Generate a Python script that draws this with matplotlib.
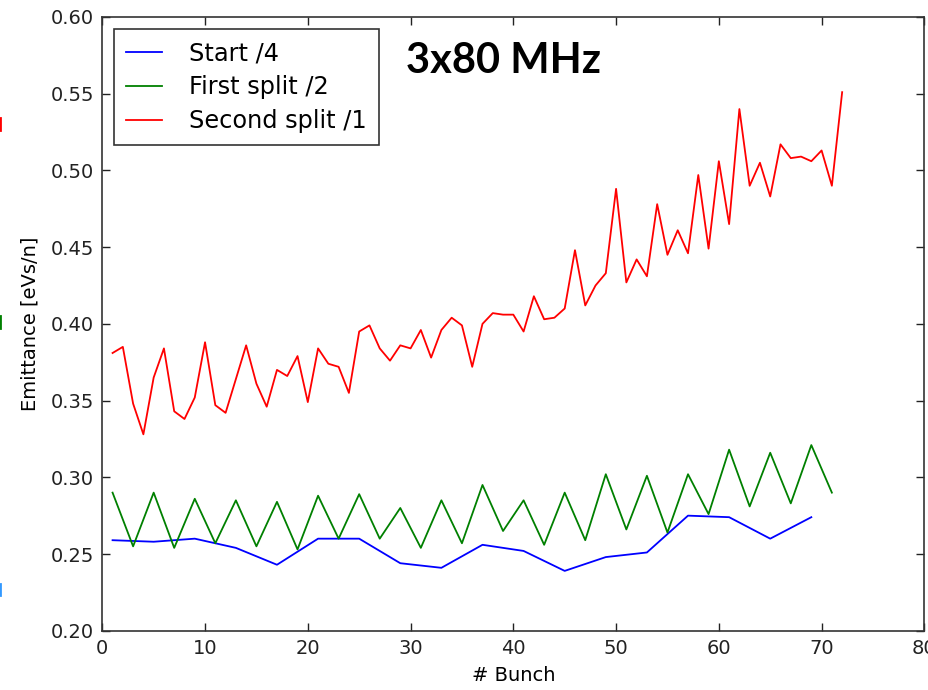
import numpy as np
import matplotlib
matplotlib.use('Agg')
import matplotlib.pyplot as plt
from matplotlib.lines import Line2D

# bunch numbers for each splitting stage
bunch_start = np.arange(1, 70, 4)
bunch_first = np.arange(1, 72, 2)
bunch_second = np.arange(1, 73)

# emittance values [eVs/n]
start_emit = [0.259, 0.258, 0.260, 0.254, 0.243, 0.260, 0.260, 0.244, 0.241,
              0.256, 0.252, 0.239, 0.248, 0.251, 0.275, 0.274, 0.260, 0.274]

first_emit = [0.290, 0.255, 0.290, 0.254, 0.286, 0.257, 0.285, 0.255, 0.284,
              0.253, 0.288, 0.260, 0.289, 0.260, 0.280, 0.254, 0.285, 0.257,
              0.295, 0.265, 0.285, 0.256, 0.290, 0.259, 0.302, 0.266, 0.301,
              0.264, 0.302, 0.276, 0.318, 0.281, 0.316, 0.283, 0.321, 0.290]

second_emit = [0.381, 0.385, 0.348, 0.328, 0.365, 0.384, 0.343, 0.338, 0.352,
               0.388, 0.347, 0.342, 0.364, 0.386, 0.361, 0.346, 0.370, 0.366,
               0.379, 0.349, 0.384, 0.374, 0.372, 0.355, 0.395, 0.399, 0.384,
               0.376, 0.386, 0.384, 0.396, 0.378, 0.396, 0.404, 0.399, 0.372,
               0.400, 0.407, 0.406, 0.406, 0.395, 0.418, 0.403, 0.404, 0.410,
               0.448, 0.412, 0.425, 0.433, 0.488, 0.427, 0.442, 0.431, 0.478,
               0.445, 0.461, 0.446, 0.497, 0.449, 0.506, 0.465, 0.540, 0.490,
               0.505, 0.483, 0.517, 0.508, 0.509, 0.506, 0.513, 0.490, 0.551]

labels = ['Start /4', 'First split /2', 'Second split /1']

fig = plt.figure(figsize=(9.29, 6.9), dpi=100)
ax = fig.add_axes([0.1101, 0.0859, 0.8849, 0.8895])

ax.plot(bunch_start, start_emit, color='b', lw=1.3, label=labels[0])
ax.plot(bunch_first, first_emit, color='g', lw=1.3, label=labels[1])
ax.plot(bunch_second, second_emit, color='r', lw=1.3, label=labels[2])

ax.set_xlim(0, 80)
ax.set_ylim(0.20, 0.60)
ax.set_yticks(np.arange(0.20, 0.601, 0.05))
ax.yaxis.set_major_formatter(matplotlib.ticker.FormatStrFormatter('%.2f'))
ax.tick_params(direction='in', top=True, right=True, length=6, width=1,
               labelsize=14, pad=6, colors='#222222')
for sp in ax.spines.values():
    sp.set_color('#333333')
    sp.set_linewidth(1.2)

ax.set_xlabel('# Bunch', fontsize=14, labelpad=6)
ax.set_ylabel('Emittance [eVs/n]', fontsize=14, labelpad=8)

leg = ax.legend(loc='upper left', fontsize=17.3, frameon=True, fancybox=False,
                handlelength=1.5, handletextpad=1.1, labelspacing=0.42,
                borderpad=0.5, borderaxespad=0.5)
leg.get_frame().set_edgecolor('black')
leg.get_frame().set_linewidth(1.2)

# annotation in the original slide
ax.text(0.370, 0.929, '3x80 MHz', transform=ax.transAxes, fontsize=30,
        fontweight='bold', family='Lato', va='center', ha='left')

# small coloured cut-off marks at the left edge of the slide
fig.add_artist(Line2D([0.0005, 0.0005], [1 - 130 / 690, 1 - 118 / 690], color='r', lw=2))
fig.add_artist(Line2D([0.0005, 0.0005], [1 - 328 / 690, 1 - 316 / 690], color='g', lw=2))
fig.add_artist(Line2D([0.0005, 0.0005], [1 - 595 / 690, 1 - 584 / 690], color='#3399ff', lw=2))

fig.savefig('out.png', dpi=100)
